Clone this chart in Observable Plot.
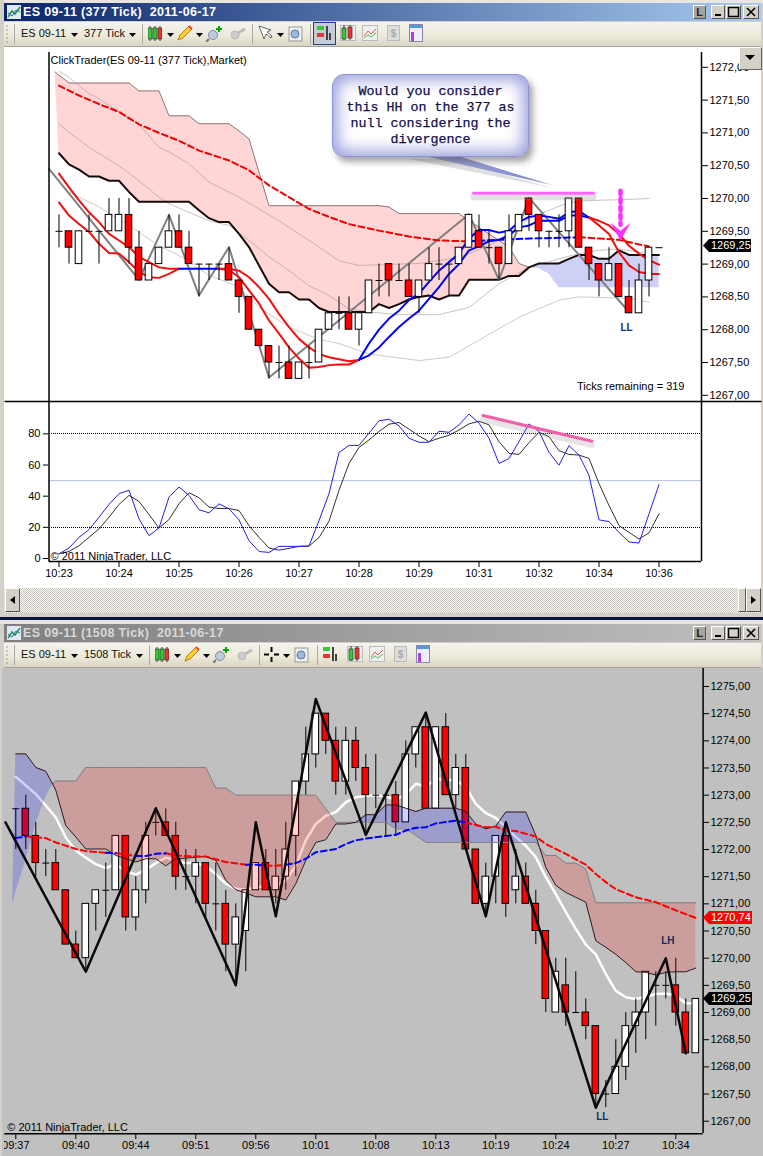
<!DOCTYPE html>
<html><head><meta charset="utf-8">
<script src="https://cdn.jsdelivr.net/npm/d3@7"></script>
<script src="https://cdn.jsdelivr.net/npm/@observablehq/plot@0.6"></script>
<style>
html,body{margin:0;padding:0;background:#d4d0c8;}
#page{position:relative;width:763px;height:1156px;overflow:hidden;background:#d4d0c8;font-family:"Liberation Sans",Arial,sans-serif;}
.abs{position:absolute;}
svg{display:block;max-width:none !important;}
</style></head><body><div id="page"></div>
<script>
/* ---------- upper chart (377 tick): candles open, high, low, close ---------- */
const topCandles = [
[1269.5,1269.75,1269.25,1269.5],[1269.5,1269.5,1269,1269.25],[1269,1269.5,1269,1269.5],[1269.5,1269.75,1269.5,1269.5],
[1269.5,1269.5,1269,1269.5],[1269.5,1270,1269.5,1269.75],[1269.5,1270,1269.5,1269.75],[1269.75,1270,1269,1269.25],
[1269.25,1269.5,1268.75,1268.75],[1268.75,1269,1268.75,1269],[1269,1269.25,1269,1269.25],[1269.25,1269.75,1269.25,1269.5],
[1269.5,1269.75,1269.25,1269.25],[1269.25,1269.5,1269,1269],[1269,1269,1268.5,1269],[1269,1269,1268.75,1269],
[1269,1269,1268.75,1269],[1269,1269.25,1268.75,1268.75],[1268.75,1268.75,1268.25,1268.5],[1268.5,1268.5,1268,1268],
[1268,1268,1267.75,1267.75],[1267.75,1267.75,1267.25,1267.5],[1267.5,1267.75,1267.25,1267.5],[1267.5,1267.75,1267.25,1267.25],
[1267.25,1267.5,1267.25,1267.5],[1267.5,1267.75,1267.25,1267.5],[1267.5,1268,1267.5,1268],[1268,1268.25,1268,1268.25],
[1268.25,1268.5,1268,1268.25],[1268.25,1268.5,1268,1268],[1268,1268.25,1267.75,1268.25],[1268.25,1268.75,1268.25,1268.75],
[1268.75,1269,1268.5,1268.75],[1269,1269,1268.5,1268.75],[1268.75,1269,1268.75,1268.75],[1268.75,1269,1268.5,1268.5],
[1268.5,1268.75,1268.25,1268.75],[1268.75,1269.25,1268.75,1269],[1269,1269.25,1268.75,1269],[1269,1269,1268.5,1269],
[1269,1269.25,1269,1269.25],[1269.25,1269.75,1269.25,1269.75],[1269.5,1269.75,1269.25,1269.25],[1269.25,1269.5,1269,1269.25],
[1269.25,1269.25,1268.75,1269],[1269,1269.75,1269,1269.5],[1269.5,1269.75,1269.5,1269.75],[1270,1270,1269.5,1269.75],
[1269.75,1269.75,1269.25,1269.5],[1269.5,1269.5,1269.25,1269.5],[1269.5,1269.75,1269.25,1269.5],[1269.5,1270,1269.25,1270],
[1270,1270,1269.25,1269.25],[1269.25,1269.25,1268.75,1269],[1269,1269,1268.5,1268.75],[1268.75,1269.25,1268.75,1269],
[1269,1269,1268.5,1268.5],[1268.5,1268.75,1268.25,1268.25],[1268.25,1269,1268.25,1268.75],[1268.75,1269.25,1268.5,1269.25],
[1269.25,1269.25,1269.25,1269.25]];
/* cloud: span with thick black edge and span with thin grey edge, bar 0..60 */
const topSpanBlack = [1270.69,1270.52,1270.44,1270.335,1270.335,1270.27,1270.27,1270.10,1269.95,1269.95,1269.95,1269.95,1269.95,1269.95,1269.82,1269.70,1269.64,1269.64,1269.46,1269.26,1268.98,1268.70,1268.57,1268.57,1268.46,1268.46,1268.33,1268.27,1268.27,1268.27,1268.27,1268.27,1268.39,1268.33,1268.39,1268.46,1268.50,1268.52,1268.46,1268.52,1268.52,1268.76,1268.76,1268.76,1268.76,1268.82,1268.82,1268.95,1269.01,1269.01,1269.01,1269.08,1269.14,1269.14,1269.08,1269.08,1269.21,1269.14,1269.14,1269.14,1269.14];
const topSpanGrey = [1271.93,1271.76,1271.76,1271.76,1271.76,1271.76,1271.76,1271.76,1271.64,1271.64,1271.64,1271.26,1271.26,1271.26,1271.14,1271.14,1271.14,1271.14,1271.03,1270.91,1270.40,1269.89,1269.89,1269.89,1269.89,1269.89,1269.89,1269.89,1269.89,1269.89,1269.89,1269.89,1269.89,1269.87,1269.77,1269.77,1269.77,1269.77,1269.77,1269.77,1269.77,1269.66,1269.56,1269.46,1269.36,1269.26,1269.01,1268.95,1268.93,1268.85,1268.64,1268.64,1268.64,1268.64,1268.64,1268.64,1268.64,1268.64,1268.64,1268.64,1268.64];
const bandUpper = [[0,1271.94],[1,1271.85],[2,1271.72],[3,1271.60],[4,1271.52],[6,1271.32],[8,1271.13],[10,1270.78],[11,1270.71],[13,1270.53],[15,1270.25],[18,1270.02],[20,1269.84],[22,1269.66],[24,1269.46],[26,1269.26],[28,1269.05],[30,1268.98],[32,1268.99],[36,1269.01],[40,1269.10],[43,1269.28],[45,1269.46],[47,1269.69],[49,1269.82],[51,1269.94],[53,1269.97],[56,1269.98],[59,1270.00]];
const bandMiddle = [[0,1271.14],[1,1271.01],[3,1270.78],[6,1270.50],[8,1270.27],[10,1270.02],[11,1269.92],[13,1269.79],[15,1269.66],[17,1269.59],[19,1269.36],[21,1269.11],[23,1268.90],[25,1268.67],[27,1268.52],[29,1268.32],[31,1268.27],[34,1268.23],[38,1268.23],[41,1268.34],[44,1268.70],[47,1268.95],[50,1269.08],[52,1269.16],[54,1269.21],[56,1269.23],[59,1269.16]];
const bandLower = [[1,1270.10],[4,1269.87],[7,1269.59],[10,1269.28],[12,1269.13],[15,1268.83],[18,1268.65],[20,1268.34],[23,1268.04],[26,1267.85],[28,1267.79],[30,1267.68],[31,1267.63],[36,1267.53],[39,1267.58],[42,1267.84],[46,1268.19],[50,1268.45],[52,1268.50],[57,1268.48],[59,1268.42]];
const fastRedA = [[0,1270.38],[1,1270.17],[2,1269.97],[3,1269.79],[4,1269.64],[5,1269.46],[6,1269.36],[7,1269.26],[8,1269.11],[9,1269.03],[10,1268.95],[11,1268.93],[12,1268.93]];
const fastRedB = [[0,1269.94],[1,1269.74],[2,1269.61],[3,1269.49],[4,1269.31],[5,1269.17],[6,1269.16],[7,1269.03],[8,1268.88],[9,1268.80],[10,1268.79],[11,1268.85],[12,1268.93]];
const fastBlueFlat = [[12,1268.93],[16,1268.93]];
const midRedA = [[16,1268.93],[17,1268.93],[18,1268.90],[19,1268.80],[20,1268.65],[21,1268.47],[22,1268.24],[23,1268.04],[24,1267.86],[25,1267.73],[26,1267.63],[27,1267.58],[28,1267.55],[29,1267.52],[30,1267.54]];
const midRedB = [[16,1268.93],[17,1268.91],[18,1268.80],[19,1268.60],[20,1268.40],[21,1268.14],[22,1267.94],[23,1267.73],[24,1267.56],[25,1267.42],[26,1267.43],[27,1267.46],[28,1267.47],[29,1267.47],[30,1267.54]];
const riseBlueA = [1267.54,1267.79,1268.00,1268.17,1268.29,1268.45,1268.55,1268.73,1268.90,1269.03,1269.16,1269.39,1269.52,1269.52,1269.48,1269.51,1269.64,1269.72,1269.74,1269.72,1269.69,1269.79,1269.81,1269.71];
const riseBlueB = [1267.54,1267.61,1267.73,1267.89,1268.04,1268.17,1268.29,1268.47,1268.65,1268.85,1269.00,1269.21,1269.27,1269.35,1269.37,1269.44,1269.56,1269.59,1269.66,1269.66,1269.66,1269.74,1269.74,1269.71];
const endRedA = [[53,1269.71],[54,1269.66],[55,1269.59],[56,1269.46],[57,1269.28],[58,1269.16],[59,1269.06],[60,1268.99]];
const endRedB = [[53,1269.71],[54,1269.59],[55,1269.46],[56,1269.18],[57,1268.98],[58,1268.88],[59,1268.85],[60,1268.85]];
const slowRedLeft = [[0,1271.72],[2,1271.57],[4,1271.44],[6,1271.32],[8,1271.13],[10,1271.00],[12,1270.88],[14,1270.73],[17,1270.58],[19,1270.43],[21,1270.20],[23,1270.02],[25,1269.84],[27,1269.72],[29,1269.61],[32,1269.51],[35,1269.42],[38,1269.36],[40,1269.35],[41,1269.35]];
const slowBlue = [[41,1269.35],[44,1269.37],[47,1269.39],[50,1269.40],[52,1269.41]];
const slowRedRight = [[52,1269.41],[54,1269.39],[56,1269.37],[58,1269.30],[59,1269.27]];
const topZigzag = [[-1,1270.45],[8,1268.76],[11,1269.75],[14,1268.52],[17,1269.26],[21,1267.27],[41,1269.76],[44,1268.76],[47,1270.01],[57,1268.27]];
const hhMark = [[41.45,1270.08],[53.45,1270.08]];
const arrowShaft = [[56.15,1270.12],[56.15,1269.6]];
const arrowHead = [[55.15,1269.63],[56.15,1269.51],[57.15,1269.63],[56.15,1269.36],[55.15,1269.63]];
const topPriceTicks = [1267,1267.5,1268,1268.5,1269,1269.5,1270,1270.5,1271,1271.5,1272];
/* ---------- stochastics panel ---------- */
const stochFast = [3,6.7,13.6,18.5,26.5,34.7,41.6,43.8,25.4,14.7,19.6,39.4,45.9,40.5,31.3,29.3,35.1,31.9,24.8,11.4,4.5,3.9,7.8,7.8,7.8,8,24.4,41.6,68.1,72.6,72.6,80.4,88.4,89.4,85.1,77.2,74.6,74.6,81.7,81,85.8,92.7,86.9,77.2,61,64.2,75,86.4,81.5,68.1,59.9,72.4,66.4,53.4,24.8,23.7,16.8,10.6,9.9,28.7,47.4];
const stochSlow = [3,4.5,8.2,13.6,19,26.5,34.7,40.5,36.6,28.2,19.6,25,35.1,42.2,39,33,32.1,32.1,30.8,21.1,13.6,6.7,5.4,6.5,7.8,8,13.4,23.9,43.8,61,71.3,76.1,81.5,86.2,87.3,83,78.7,75,77.2,79.1,82.5,86.4,88.1,85.8,75,67.5,66.8,74.4,81,78.2,69.2,66.8,66.4,64.2,48.1,34,21.1,16.8,12.5,16.4,28.7];
const divergence = [[42.4,91.8],[53.3,75.3]];
const stochTicks = [0,20,40,60,80];
const stochLevels = [20,80];
const stochMiddle = [50];
const topTimeTicks = [0,6,12,18,24,30,36,42,48,54,60];
const topTimeLabels = ["10:23","10:24","10:25","10:26","10:27","10:28","10:29","10:31","10:32","10:34","10:36"];
/* ---------- lower chart (1508 tick) ---------- */
const botCandles = [
[1272.75,1272.75,1272,1272.75],[1272.75,1273,1272,1272.25],[1272.25,1272.5,1271.5,1271.75],[1271.75,1272,1271.5,1271.75],
[1271.75,1272,1271.25,1271.25],[1271.25,1271.25,1270.25,1270.25],[1270.25,1270.5,1270,1270],[1270,1271,1269.75,1271],
[1271,1271.25,1270.5,1271.25],[1271.25,1271.75,1270.75,1271.25],[1271.25,1272.25,1271.25,1272.25],[1272.25,1272.25,1270.5,1270.75],
[1270.75,1271.5,1270.5,1271.25],[1271.25,1272.5,1271,1272.25],[1272.5,1272.75,1272.25,1272.5],[1272.5,1272.75,1272.25,1272.25],
[1272.25,1272.5,1271.25,1271.5],[1271.5,1272,1271.25,1271.5],[1271.5,1272,1271,1271.75],[1271.75,1271.75,1270.75,1271],
[1271,1271.75,1270.5,1271],[1271,1271.25,1269.75,1270.25],[1270.25,1271,1269.5,1270.75],[1270.5,1271.25,1269.75,1271.25],
[1271.25,1271.75,1271.25,1271.75],[1271.75,1272,1271.25,1271.25],[1271.25,1272,1271,1271.5],[1271.5,1272.5,1271.25,1272],
[1272.25,1273.25,1271.5,1273.25],[1273.25,1274.25,1273,1273.75],[1273.75,1274.5,1273.5,1274.5],[1274.5,1274.5,1273.75,1274],
[1274,1274.25,1273,1273.25],[1273.25,1274.25,1273,1274],[1274,1274.25,1273.25,1273.5],[1273.5,1273.75,1272.25,1273],
[1273,1273.75,1272.75,1273],[1273,1273,1272.25,1273],[1273,1273.25,1272.25,1272.5],[1272.5,1274,1272.5,1273.75],
[1273.75,1274.25,1273.5,1274.25],[1274.25,1274.5,1272.75,1272.75],[1272.75,1274.25,1272.75,1274.25],[1274.25,1274.5,1273,1273],
[1273,1273.75,1272.75,1273.5],[1273.5,1273.75,1272,1272],[1272,1272,1271,1271],[1271,1271.75,1270.75,1271.5],
[1271.5,1272.25,1271,1272.25],[1272.25,1272.5,1270.75,1271],[1271.25,1272,1271,1271.5],[1271.5,1271.75,1271,1271],
[1271,1271.25,1270.25,1270.5],[1270.5,1270.5,1269,1269.25],[1269,1270,1269,1269.75],[1269.5,1270,1268.75,1269],
[1269,1269.75,1269,1269],[1269,1269.25,1268.5,1268.75],[1268.75,1268.75,1267.25,1267.5],[1267.5,1267.75,1267.25,1267.5],
[1267.5,1268.5,1267.5,1268],[1268,1269,1267.75,1268.75],[1268.75,1269.25,1268.25,1269],[1269,1269.75,1268.5,1269.75],
[1269.5,1269.75,1268.75,1269.5],[1269.5,1269.75,1269.25,1269.5],[1269.5,1270,1268.75,1269],[1269,1269.25,1268.25,1268.25],
[1268.25,1269.25,1268.25,1269.25]];
/* cloud span values; the x lists hold the bars and the two crossings */
const botCloudX = [0,1,2,3,3.7,4,5,6,7,8,9,10,11,12,13,14,15,16,17,18,19,20,21,22,23,24,25,26,27,28,29,30,31,32,33,34,35,36,37,38,39,40,41,42,43,44,45,46,47,48,49,50,51,52,52.37,53,54,55,56,57,58,59,60,61,62,63,64,65,66,67,68];
const botSpanBlack = [1273.76,1273.76,1273.51,1273.44,1273.2,1273.09,1272.44,1272.23,1272.01,1272.01,1272.01,1271.89,1271.83,1271.77,1271.83,1271.83,1271.70,1271.83,1271.84,1271.86,1271.87,1271.80,1271.43,1271.26,1271.20,1271.13,1271.13,1271.13,1271.07,1271.37,1271.80,1272.13,1272.18,1272.47,1272.47,1272.50,1272.64,1272.64,1272.82,1272.82,1272.76,1272.70,1272.76,1272.76,1272.76,1272.76,1272.70,1272.47,1272.38,1272.43,1272.69,1272.69,1272.69,1272.26,1272.04,1271.67,1271.34,1271.21,1271.12,1271.03,1270.32,1270.2,1270.07,1269.92,1269.75,1269.74,1269.69,1269.74,1269.75,1269.75,1269.82];
const botSpanGrey = [1271.12,1271.80,1272.47,1272.96,1273.2,1273.26,1273.26,1273.26,1273.51,1273.51,1273.51,1273.51,1273.51,1273.51,1273.51,1273.51,1273.51,1273.51,1273.51,1273.51,1273.51,1273.13,1273.13,1273.0,1273.0,1273.0,1273.0,1273.0,1273.0,1273.0,1273.0,1273.0,1272.75,1272.50,1272.50,1272.50,1272.50,1272.50,1272.50,1272.38,1272.38,1272.26,1272.13,1272.13,1272.13,1272.13,1272.13,1272.13,1272.13,1272.13,1272.13,1272.13,1272.13,1272.13,1272.04,1271.89,1271.89,1271.75,1271.75,1271.64,1271.02,1271.02,1271.02,1271.02,1271.02,1271.02,1271.02,1271.02,1271.02,1271.02,1271.02];
const botCloudTip = [-0.33,1271.0];
const botWhite = [1273.34,1273.18,1273.02,1272.81,1272.59,1272.22,1271.98,1271.85,1271.73,1271.66,1271.73,1271.60,1271.54,1271.63,1271.75,1271.85,1271.80,1271.75,1271.75,1271.69,1271.55,1271.37,1271.28,1271.26,1271.31,1271.32,1271.34,1271.43,1271.70,1272.17,1272.47,1272.62,1272.69,1272.87,1272.96,1272.99,1273.0,1272.98,1272.91,1273.02,1273.21,1273.16,1273.30,1273.28,1273.28,1273.15,1272.84,1272.67,1272.58,1272.41,1272.23,1272.07,1271.86,1271.49,1271.18,1270.85,1270.54,1270.25,1270.07,1269.71,1269.40,1269.28,1269.25,1269.29,1269.34,1269.35,1269.31,1269.17,1269.17];
const botDashBlue = [
 [[0,1272.21],[1,1272.24]],
 [[9,1271.94],[10,1271.93]],
 [[12,1271.88],[13,1271.88],[14,1271.92],[15,1271.93]],
 [[23,1271.72],[24,1271.72],[25,1271.70]],
 [[27,1271.72],[28,1271.75],[29,1271.83],[30,1271.95],[32,1272.01],[33,1272.10],[34,1272.17],[35,1272.20],[37,1272.25],[38,1272.27],[39,1272.35],[40,1272.40],[41,1272.41],[42,1272.48],[44,1272.53],[45,1272.50]]];
const botDashRed = [
 [[1,1272.24],[3,1272.21],[4,1272.13],[6,1272.01],[7,1271.97],[9,1271.94]],
 [[10,1271.93],[11,1271.91],[12,1271.88]],
 [[15,1271.93],[16,1271.89],[18,1271.87],[19,1271.87],[21,1271.77],[23,1271.72]],
 [[25,1271.70],[26,1271.70],[27,1271.72]],
 [[45,1272.50],[46,1272.45],[47,1272.41],[48,1272.42],[49,1272.35],[50,1272.34],[52,1272.24],[53,1272.10],[55,1271.92],[57,1271.72],[58,1271.55],[59,1271.40],[60,1271.27],[62,1271.12],[64,1271.03],[66,1270.88],[68,1270.74]]];
const botZigzag = [[-1.03,1272.5],[7,1269.75],[14,1272.76],[22,1269.5],[24,1272.5],[26,1270.77],[30,1274.77],[35,1272.27],[41,1274.52],[47,1270.77],[49,1272.5],[58,1267.25],[65,1270],[67,1268.25]];
const botPriceTicks = [1267,1267.5,1268,1268.5,1269,1269.5,1270,1270.5,1271,1271.5,1272,1272.5,1273,1273.5,1274,1274.5,1275];
const botTimeTicks = [0,6,12,18,24,30,36,42,48,54,60,66];
const botTimeLabels = ["09:37","09:40","09:44","09:51","09:56","10:01","10:08","10:13","10:19","10:24","10:27","10:34"];

const comma = d => d3.format(".2f")(d).replace(".",",");
const seq = (start,vals) => vals.map((v,k)=>[start+k,v]);
const toRows = rows => rows.map((r,i)=>({i,o:r[0],h:r[1],l:r[2],c:r[3]}));
const FONT = '"Liberation Sans",Arial,sans-serif';

function candleMarks(rows){
  const R = toRows(rows), hw=.33;
  return [
    Plot.ruleX(R,{x:"i",y1:"l",y2:"h",stroke:"#000",strokeWidth:1}),
    Plot.rect(R.filter(d=>d.c>d.o),{x1:d=>d.i-hw,x2:d=>d.i+hw,y1:"o",y2:"c",fill:"#fff",stroke:"#000",strokeWidth:1}),
    Plot.rect(R.filter(d=>d.c<d.o),{x1:d=>d.i-hw,x2:d=>d.i+hw,y1:"c",y2:"o",fill:"#f00",stroke:"#000",strokeWidth:1}),
    Plot.link(R.filter(d=>d.c===d.o),{x1:d=>d.i-hw-.02,x2:d=>d.i+hw+.02,y1:"o",y2:"o",stroke:"#000",strokeWidth:1})
  ];
}
const L = (data,stroke,strokeWidth,extra={}) => Plot.line(data,{stroke,strokeWidth,curve:"linear",strokeLinejoin:"round",...extra});

/* ---- top price panel ---- */
const tX = i=> i===0?-0.4:i;
const topPink = d3.range(0,48), topBlue = d3.range(47,61);
const topPanel = Plot.plot({
  width:763,height:355,marginTop:5,marginBottom:0,marginLeft:48,marginRight:62,
  style:{fontFamily:FONT,background:"transparent",color:"#000"},
  x:{type:"linear",domain:[0,60],range:[58.5,658.5],axis:null},
  y:{type:"linear",domain:[1267,1272],range:[347.8,19.8],label:null},
  marks:[
    Plot.area(topPink,{x1:i=>tX(i),y1:i=>topSpanGrey[i],x2:i=>i,y2:i=>topSpanBlack[i],fill:"#ffd5d5"}),
    Plot.area(topBlue,{x1:i=>i,y1:i=>topSpanGrey[i],x2:i=>i,y2:i=>topSpanBlack[i],fill:"#ced0f6"}),
    L(topPink.map(i=>[tX(i),topSpanGrey[i]]),"#8a7676",1),
    L(bandUpper,"#a09090",1,{strokeOpacity:.55}),
    L(bandMiddle,"#a09090",1,{strokeOpacity:.55}),
    L(bandLower,"#a0a0a0",1,{strokeOpacity:.55}),
    L(seq(0,topSpanBlack),"#1a0a0a",2),
    L(topZigzag,"#808080",2),
    L(fastRedA,"#f01010",2),L(fastRedB,"#f01010",2),
    L(fastBlueFlat,"#0000ff",2),
    L(midRedA,"#f01010",2),L(midRedB,"#f01010",2),
    L(seq(30,riseBlueA),"#0000ff",2),L(seq(30,riseBlueB),"#0000ff",2),
    L(endRedA,"#f01010",2),L(endRedB,"#f01010",2),
    L(slowRedLeft,"#f00000",2,{strokeDasharray:"6,3.5"}),
    L(slowBlue,"#0000ff",2,{strokeDasharray:"6,3.5"}),
    L(slowRedRight,"#f00000",2,{strokeDasharray:"6,3.5"}),
    ...candleMarks(topCandles),
    L(hhMark,"#888",6,{dy:4,strokeOpacity:.25}),
    L(hhMark,"#ff66ff",3),
    L(arrowShaft,"#ff33ff",4.5,{strokeDasharray:"4,4"}),
    Plot.line(arrowHead,{fill:"#ff33ff",stroke:"none",curve:"linear"}),
    Plot.text([[56.75,1268.03]],{text:["LL"],fontSize:10,fontWeight:"bold",fill:"#1c2c5c",letterSpacing:"1px"}),
    Plot.text([[62.55,1267.13]],{text:["Ticks remaining = 319"],fontSize:11,textAnchor:"end",fill:"#000"}),
    Plot.text([[-0.85,1272.1]],{text:["ClickTrader(ES 09-11 (377 Tick),Market)"],fontSize:11,textAnchor:"start",fill:"#000"}),
    Plot.ruleX([-1],{stroke:"#000",strokeWidth:1.5}),
    Plot.ruleX([64.25],{stroke:"#000",strokeWidth:1.5}),
    Plot.axisY({anchor:"right",ticks:topPriceTicks,tickSize:6,tickPadding:2,fontSize:11,tickFormat:comma,label:null})
  ]
});

/* ---- stochastics panel ---- */
const oscPanel = Plot.plot({
  width:763,height:188,marginTop:0,marginBottom:27,marginLeft:48,marginRight:62,
  style:{fontFamily:FONT,background:"transparent",color:"#000"},
  x:{type:"linear",domain:[0,60],range:[58.5,658.5]},
  y:{type:"linear",domain:[0,100],range:[158,2.2]},
  marks:[
    Plot.ruleY(stochMiddle,{x1:-1,x2:64.25,stroke:"#b4c0dc",strokeWidth:1}),
    Plot.ruleY(stochLevels,{x1:-1,x2:64.25,stroke:"#000",strokeWidth:1,strokeDasharray:"1,1",shapeRendering:"crispEdges"}),
    L(seq(0,stochSlow),"#303030",1),
    L(seq(0,stochFast),"#2020f0",1),
    L(divergence,"#888",6,{dy:4,strokeOpacity:.22}),
    L(divergence,"#f060a8",3),
    Plot.text([[-0.85,1.5]],{text:["© 2011 NinjaTrader, LLC"],fontSize:11,textAnchor:"start",fill:"#000"}),
    Plot.ruleY([100.8],{x1:-5.4,x2:70.3,stroke:"#000",strokeWidth:1.5}),
    Plot.ruleX([-1],{y1:-2,y2:100.8,stroke:"#000",strokeWidth:1.5}),
    Plot.ruleX([64.25],{y1:-2,y2:100.8,stroke:"#000",strokeWidth:1.5}),
    Plot.ruleY([-2],{x1:-1,x2:64.25,stroke:"#000",strokeWidth:1.5}),
    Plot.axisY({anchor:"left",ticks:stochTicks,tickSize:5,tickPadding:3,fontSize:11,label:null}),
    Plot.axisX({anchor:"bottom",ticks:topTimeTicks,tickSize:6,tickPadding:2,fontSize:11,label:null,
      tickFormat:d=>topTimeLabels[topTimeTicks.indexOf(d)]})
  ]
});

/* ---- lower price panel ---- */
const seg = (a,b)=>d3.range(botCloudX.length).filter(k=>botCloudX[k]>=a&&botCloudX[k]<=b);
const gx = k => k===0?botCloudTip[0]:botCloudX[k];
const gy = k => k===0?botCloudTip[1]:botSpanGrey[k];
const clPink=[seg(3.7,34),seg(52.37,68)], clBlue=[seg(-1,3.7),seg(34,52.37)];
const botPanel = Plot.plot({
  width:763,height:488,marginTop:0,marginBottom:23,marginLeft:4,marginRight:61,
  style:{fontFamily:FONT,background:"transparent",color:"#000"},
  x:{type:"linear",domain:[0,60],range:[15.3,615.3]},
  y:{type:"linear",domain:[1267,1275],range:[452.7,18],label:null},
  marks:[
    L(seq(0,botWhite),"#fff",2.5),
    ...candleMarks(botCandles),
    ...clPink.map(s=>Plot.area(s,{x1:gx,y1:gy,x2:k=>botCloudX[k],y2:k=>botSpanBlack[k],fill:"#f00",fillOpacity:.18})),
    ...clBlue.map(s=>Plot.area(s,{x1:gx,y1:gy,x2:k=>botCloudX[k],y2:k=>botSpanBlack[k],fill:"#00f",fillOpacity:.18})),
    L(seg(3.7,68).map(k=>[botCloudX[k],botSpanGrey[k]]),"#808080",1),
    L(botCloudX.map((x,k)=>[x,botSpanBlack[k]]),"#301818",1),
    ...botDashRed.map(s=>L(s,"#f00",2,{strokeDasharray:"6,3.5"})),
    ...botDashBlue.map(s=>L(s,"#0000ff",2,{strokeDasharray:"6,3.5"})),
    L(botZigzag,"#0a0a0a",2.5),
    Plot.text([[65.2,1270.32]],{text:["LH"],fontSize:10,fontWeight:"bold",fill:"#1c2c5c",letterSpacing:"1px"}),
    Plot.text([[58.65,1267.08]],{text:["LL"],fontSize:10,fontWeight:"bold",fill:"#1c2c5c",letterSpacing:"1px"}),
    Plot.text([[-0.85,1266.89]],{text:["© 2011 NinjaTrader, LLC"],fontSize:11,textAnchor:"start",fill:"#000"}),
    Plot.ruleX([68.73],{stroke:"#000",strokeWidth:1.5}),
    Plot.ruleY([1266.77],{x1:-1.1,x2:68.73,stroke:"#000",strokeWidth:1.5}),
    Plot.axisY({anchor:"right",ticks:botPriceTicks,tickSize:6,tickPadding:2,fontSize:11,tickFormat:comma,label:null}),
    Plot.axisX({anchor:"bottom",ticks:botTimeTicks,tickSize:6,tickPadding:2,fontSize:11,label:null,
      tickFormat:d=>botTimeLabels[botTimeTicks.indexOf(d)]})
  ]
});

/* ---------- window chrome ---------- */
const page = document.getElementById("page");
function box(css,html=""){const d=document.createElement("div");d.className="abs";d.style.cssText=css;d.innerHTML=html;page.appendChild(d);return d;}
function svgAt(x,y,w,h,inner){box(`left:${x}px;top:${y}px;width:${w}px;height:${h}px`,`<svg width="${w}" height="${h}" viewBox="0 0 ${w} ${h}">${inner}</svg>`);}
const drop = (x,y)=>svgAt(x,y,7,4,'<path d="M0 0H7L3.5 4Z" fill="#000"/>');
function toolbar(y,sym,tick,dropX,cross,g){
  box(`left:4px;top:${y}px;width:757px;height:24px;background:linear-gradient(#f4f3ee,#ece9d8 60%,#d8d5c6);border-bottom:1px solid #a8a59a`);
  svgAt(6,y+3,3,18,'<path d="M1 0V18" stroke="#999" stroke-dasharray="2,2"/>');
  box(`left:14px;top:${y+2}px;width:1px;height:20px;background:#aaa`);
  const T=(s,x)=>box(`left:${x}px;top:${y+5}px;font-size:11px;color:#111;white-space:pre`,s);
  T(sym,21);drop(71,y+11);T(tick,84);drop(dropX,y+11);
  const off=dropX-129;
  box(`left:${142+off}px;top:${y+2}px;width:1px;height:20px;background:#aaa`);
  const c=(x,col)=>`<path d="M${x+2} 0V15" stroke="#333"/><rect x="${x}" y="2" width="4" height="11" fill="${col}" stroke="#333" stroke-width=".7"/>`;
  svgAt(148+off,y+4,14,15,c(0,"#3c3")+c(5,"#3c3")+c(10,"#e33"));drop(167+off,y+11);
  svgAt(177+off,y+3,16,16,'<path d="M1 15L3 10L12 1L15 4L6 13Z" fill="#fc3" stroke="#a60" stroke-width=".8"/><path d="M12 1L15 4" stroke="#e44" stroke-width="2"/>');drop(196+off,y+11);
  svgAt(206+off,y+3,17,17,'<circle cx="7" cy="10" r="4.5" fill="#bcd" stroke="#889"/><path d="M3 14L0 17" stroke="#777" stroke-width="2"/><path d="M13 1V7M10 4H16" stroke="#0a0" stroke-width="2"/>');
  svgAt(229+off,y+5,17,14,'<circle cx="6" cy="8" r="4" fill="#ccc" stroke="#bbb"/><path d="M9 6L16 2" stroke="#bbb" stroke-width="3"/>');
  box(`left:${252+off}px;top:${y+2}px;width:1px;height:20px;background:#aaa`);
  if(cross) svgAt(264,y+4,15,15,'<path d="M7.5 0V5M7.5 10V15M0 7.5H5M10 7.5H15" stroke="#000" stroke-width="2"/>');
  else svgAt(258,y+3,15,16,'<path d="M1 1L6 14L8 9L13 13L14 11L9 7L13 5Z" fill="#fff" stroke="#444" stroke-width=".8"/>');
  drop(cross?283:277,y+11);
  const mx=cross?294:288;
  svgAt(mx,y+4,15,16,'<rect x="1" y="1" width="13" height="14" fill="#eee" stroke="#999"/><circle cx="7" cy="8" r="4" fill="#9bd" stroke="#679"/>');
  const sx=cross?317:310;
  box(`left:${sx}px;top:${y+2}px;width:1px;height:20px;background:#aaa`);
  const bx=sx+3+(cross?-1:0);
  if(!cross) box(`left:${bx}px;top:${y}px;width:21px;height:21px;background:#c8ccd8;border:1px solid #22417a`);
  svgAt(bx+3,y+3,16,16,'<rect x="1" y="1" width="7" height="4" fill="#3c3"/><rect x="1" y="8" width="7" height="4" fill="#e33"/><path d="M11 1V15M14 8V15" stroke="#444" stroke-width="2"/>');
  svgAt(sx+30,y+3,16,16,'<rect x=".5" y=".5" width="15" height="15" fill="#eee" stroke="#bbb"/>'+c(2,"#3c3").replace(/y="2"/,'y="3"')+c(8,"#e33"));
  svgAt(sx+52,y+3,16,16,'<rect x=".5" y=".5" width="15" height="15" fill="#eee" stroke="#bbb"/><path d="M2 11L6 6L9 9L14 4" stroke="#e55" fill="none"/><path d="M2 13L6 10L9 12L14 8" stroke="#5b5" fill="none"/>');
  svgAt(sx+77,y+3,13,16,'<rect x=".5" y=".5" width="12" height="15" fill="#ddd" stroke="#bbb"/><text x="6.5" y="12" font-size="10" font-weight="bold" text-anchor="middle" fill="#aaa">$</text>');
  svgAt(sx+99,y+2,14,18,'<rect x=".5" y=".5" width="13" height="17" fill="#eef" stroke="#88a"/><rect x="1" y="1" width="12" height="3" fill="#59d"/><rect x="2" y="8" width="3" height="9" fill="#a4d"/>');
}
const TITLE="font:bold 12.5px/16px 'Liberation Sans',sans-serif;letter-spacing:.35px;white-space:pre";
/* upper window */
box("left:0;top:0;width:763px;height:3px;background:#e8e6df");
box("left:4px;top:3px;width:757px;height:18px;background:linear-gradient(90deg,#0a246a,#a6caf0)");
box("left:0;top:0;width:4px;height:620px;background:#d4d0c8");
svgAt(7,5,14,14,'<rect width="14" height="14" fill="#dfe8f4"/><path d="M1 12L5 6L8 9L13 2" stroke="#2a9a3a" stroke-width="1.5" fill="none"/><path d="M1 8L5 11L9 5L13 7" stroke="#26c" fill="none"/>');
box(`left:23px;top:4px;color:#fff;${TITLE}`,"ES 09-11 (377 Tick)  2011-06-17");
toolbar(22,"ES 09-11","377 Tick",129,false);
box("left:4px;top:47px;width:757px;height:541px;background:#fff");
box("left:4px;top:588px;width:757px;height:25px;background:repeating-conic-gradient(#fff 0 25%,#c4c0b8 0 50%) 0 0/2px 2px");
box("left:0;top:613px;width:763px;height:4px;background:#d4d0c8");
box("left:0;top:617px;width:763px;height:3px;background:#0a1440");
box("left:0;top:620px;width:763px;height:4px;background:#e8e6df");
/* panels */
box("left:0;top:47px;width:763px;height:355px").appendChild(topPanel);
box("left:0;top:400px;width:763px;height:188px").appendChild(oscPanel);
/* buttons over the panels */
box("left:739px;top:47px;width:23px;height:23px;background:#d4d0c8;border:1px solid;border-color:#fff #666 #666 #fff;box-sizing:border-box",'<svg width="21" height="21"><path d="M5 7H15L10 12Z" fill="#000"/></svg>');
const sb=(x,w,tri)=>box(`left:${x}px;top:588px;width:${w}px;height:24px;background:#d4d0c8;border:1px solid;border-color:#fff #555 #555 #fff;box-sizing:border-box`,tri);
sb(5,15,'<svg width="13" height="22"><path d="M9 7V15L4 11Z" fill="#000"/></svg>');
sb(738,8,'');
sb(746,15,'<svg width="13" height="22"><path d="M4 7V15L9 11Z" fill="#000"/></svg>');
const TAG="font-size:11px;line-height:13px;color:#fff;padding-left:8px;box-sizing:border-box;height:13px;clip-path:polygon(0 50%,6px 0,100% 0,100% 100%,6px 100%)";
/* price tag */
box(`left:703px;top:239px;width:48px;background:#000;${TAG}`,"1269,25");
/* callout */
svgAt(405,150,160,45,'<defs><linearGradient id="tg" x1="0" x2="1" y1="0" y2="0"><stop offset="0" stop-color="#a8acdf"/><stop offset="1" stop-color="#7f86c8"/></linearGradient></defs><path d="M4 6L45 6L147 35Z" fill="#555" opacity=".18" transform="translate(0,3)"/><path d="M2 2L40 2L147 35Z" fill="url(#tg)"/>');
box("left:332px;top:74px;width:197px;height:83px;box-sizing:border-box;border-radius:12px;background:#fff;border:1px solid #8d93d2;box-shadow:inset 0 0 16px 5px #9aa0dc,4px 5px 6px rgba(60,60,60,.45);color:#10104a;font:13.33px/16px 'Liberation Mono',monospace;-webkit-text-stroke:.25px #10104a;text-align:center;padding-top:8.5px;white-space:pre","Would you consider\nthis HH on the 377 as\nnull considering the\ndivergence");
/* lower window */
box("left:4px;top:624px;width:757px;height:18px;background:linear-gradient(90deg,#808080,#c0c0c0)");
svgAt(7,626,14,14,'<rect width="14" height="14" fill="#dfe8f4"/><path d="M1 12L5 6L8 9L13 2" stroke="#2a9a3a" stroke-width="1.5" fill="none"/><path d="M1 8L5 11L9 5L13 7" stroke="#26c" fill="none"/>');
box(`left:23px;top:625px;color:#d8d8d8;${TITLE}`,"ES 09-11 (1508 Tick)  2011-06-17");
toolbar(643,"ES 09-11","1508 Tick",136,true);
box("left:2px;top:668px;width:761px;height:488px;background:#c0c0c0");
const botWrap = box("left:4px;top:668px;width:759px;height:488px;overflow:hidden");
botPanel.style.marginLeft="-4px";botPanel.style.maxWidth="none";botWrap.appendChild(botPanel);
box(`left:703px;top:992px;width:49px;background:#000;${TAG}`,"1269,25");
box(`left:703px;top:911px;width:49px;background:#f00;${TAG}`,"1270,74");
/* window buttons */
for (const oy of [5,626]) {
  const W=(x,w,inner,bg="#d4d0c8")=>box(`left:${x}px;top:${oy}px;width:${w}px;height:14px;background:${bg};border:1px solid;border-color:#fff #555 #555 #fff;box-sizing:border-box;text-align:center;font:bold 11px/12px 'Liberation Sans';color:#222`,inner);
  W(693,13,"L","#a8a49c");W(711,14,'<svg width="12" height="12"><path d="M3 9H9" stroke="#000" stroke-width="2"/></svg>');
  W(726,15,'<svg width="13" height="12"><rect x="1.5" y="1.5" width="10" height="9" fill="none" stroke="#000" stroke-width="1.5"/></svg>');
  W(743,16,'<svg width="14" height="12"><path d="M3 2L11 10M11 2L3 10" stroke="#000" stroke-width="1.6"/></svg>');
}
</script></body></html>
